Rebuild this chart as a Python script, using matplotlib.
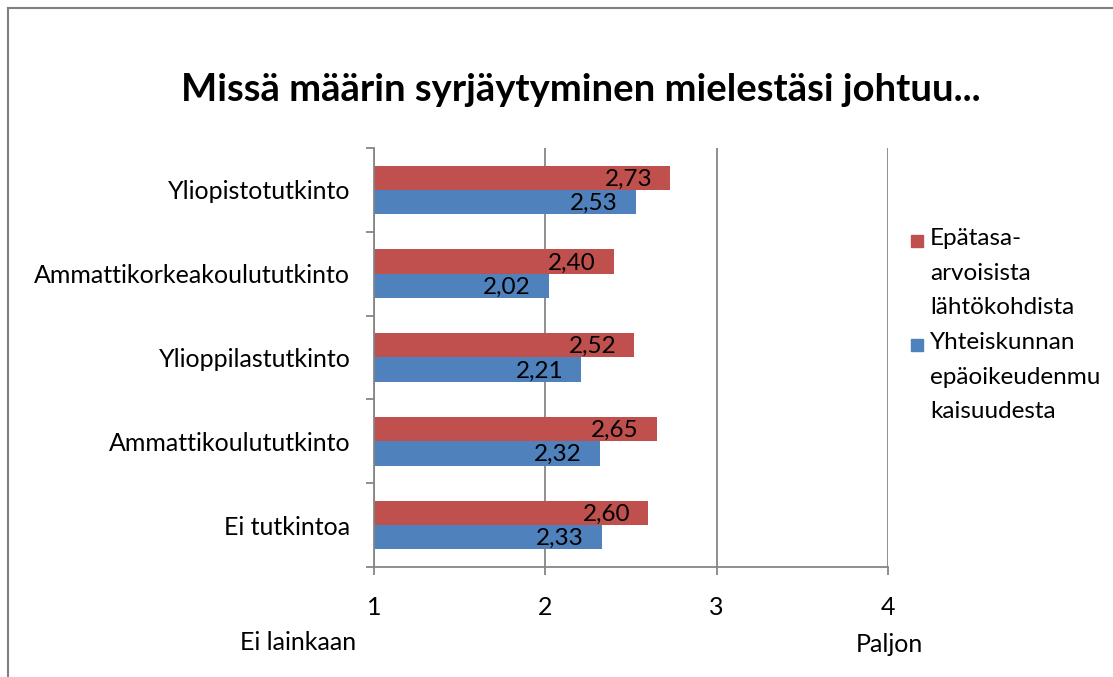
import numpy as np
import matplotlib.pyplot as plt
from matplotlib.lines import Line2D
from matplotlib.patches import Rectangle

plt.rcParams['font.family'] = ['Lato', 'DejaVu Sans']

# data (bottom to top as drawn)
categories = ['Ei tutkintoa', 'Ammattikoulututkinto', 'Ylioppilastutkinto',
              'Ammattikorkeakoulututkinto', 'Yliopistotutkinto']
epatasa = [2.60, 2.65, 2.52, 2.40, 2.73]
yhteis = [2.33, 2.32, 2.21, 2.02, 2.53]
series_names = ['Epätasa-\narvoisista\nlähtökohdista',
                'Yhteiskunnan\nepäoikeudenmu\nkaisuudesta']
red = '#c0504d'
blue = '#4f81bd'
grid_col = '#868686'

W, H = 1113, 677
fig = plt.figure(figsize=(W / 100, H / 100), dpi=100)
ax = fig.add_axes([374 / W, 1 - 567 / H, (888 - 374) / W, (567 - 148) / H])

y = np.arange(len(categories))
h = 0.29
b_red = ax.barh(y + h / 2, [v - 1 for v in epatasa], height=h, left=1, color=red)
b_blue = ax.barh(y - h / 2, [v - 1 for v in yhteis], height=h, left=1, color=blue)

for bars, vals in [(b_red, epatasa), (b_blue, yhteis)]:
    for bar, v in zip(bars, vals):
        ax.annotate(f'{v:.2f}'.replace('.', ','),
                    (bar.get_x() + bar.get_width(), bar.get_y() + bar.get_height() / 2),
                    xytext=(-13, -1), textcoords='offset points',
                    ha='right', va='center', fontsize=17.5, color='black')

ax.set_xlim(1, 4)
ax.set_ylim(-0.5, len(categories) - 0.5)
ax.set_xticks([1, 2, 3, 4])
ax.set_xticklabels(['1', '2', '3', '4'], fontsize=18)
ax.set_yticks(y)
ax.set_yticklabels(categories, fontsize=18)
ax.set_yticks(np.arange(-0.5, len(categories)), minor=True)
ax.tick_params(axis='y', which='major', length=0, pad=17)
ax.tick_params(axis='y', which='minor', length=6, color=grid_col, width=1.3)
ax.tick_params(axis='x', length=6, color=grid_col, width=1.3, pad=15)

ax.grid(axis='x', color=grid_col, linewidth=1.3)
ax.set_axisbelow(True)
for s in ['top', 'right']:
    ax.spines[s].set_visible(False)
for s in ['left', 'bottom']:
    ax.spines[s].set_color(grid_col)
    ax.spines[s].set_linewidth(1.3)

fig.text(581 / W, 1 - 90 / H, 'Missä määrin syrjäytyminen mielestäsi johtuu...',
         ha='center', va='center', fontsize=27.5, fontweight='bold')
fig.text(298 / W, 1 - 643 / H, 'Ei lainkaan', ha='center', va='center', fontsize=18)
fig.text(889 / W, 1 - 645 / H, 'Paljon', ha='center', va='center', fontsize=18)

# legend, drawn by hand so the square sits on the first line
for i, (name, col) in enumerate(zip(series_names, [red, blue])):
    top = 228 + i * 104
    fig.add_artist(Rectangle((911 / W, 1 - (top + 19) / H), 12 / W, 12 / H,
                             transform=fig.transFigure, color=col))
    fig.text(930 / W, 1 - top / H, name, ha='left', va='top', fontsize=17.5,
             linespacing=1.8)

# chart border (top and left only visible)
fig.add_artist(Line2D([8 / W, 1], [1 - 8 / H, 1 - 8 / H], color='#808080', lw=1.5))
fig.add_artist(Line2D([8 / W, 8 / W], [0, 1 - 8 / H], color='#808080', lw=1.5))

fig.savefig('out.png', dpi=100)
